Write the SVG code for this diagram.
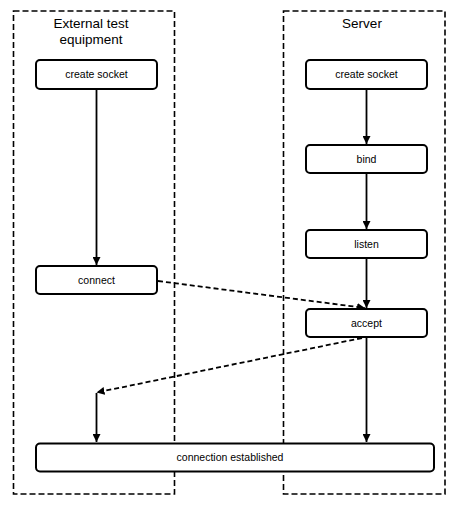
<svg xmlns="http://www.w3.org/2000/svg" width="455" height="514" viewBox="0 0 455 514">
<style>
.lane{fill:none;stroke:#000;stroke-width:1.6;stroke-dasharray:6 3}
.box{fill:#fff;stroke:#000;stroke-width:2}
.t{font-family:"Liberation Sans",Arial,sans-serif;font-size:10.5px;fill:#000;text-anchor:middle}
.h{font-family:"Liberation Sans",Arial,sans-serif;font-size:13.5px;fill:#000;text-anchor:middle}
.s{fill:none;stroke:#000;stroke-width:1.8}
.d{fill:none;stroke:#000;stroke-width:1.8;stroke-dasharray:5 3}
</style>
<defs>
<marker id="ah" markerWidth="8" markerHeight="8" refX="8" refY="4" orient="auto" markerUnits="userSpaceOnUse">
<path d="M0,0 L8,4 L0,8 Z" fill="#000"/>
</marker>
</defs>
<g id="lane-external">
<rect class="lane" x="13.5" y="11" width="161" height="483"/>
<text class="h" x="91" y="28">External test</text>
<text class="h" x="91" y="44">equipment</text>
</g>
<g id="lane-server">
<rect class="lane" x="283.5" y="11" width="161.5" height="483"/>
<text class="h" x="362" y="28">Server</text>
</g>
<g id="connectors">
<line class="s" x1="96.5" y1="89" x2="96.5" y2="265" marker-end="url(#ah)"/>
<line class="s" x1="366.5" y1="89" x2="366.5" y2="144" marker-end="url(#ah)"/>
<line class="s" x1="366.5" y1="173" x2="366.5" y2="229" marker-end="url(#ah)"/>
<line class="s" x1="366.5" y1="258" x2="366.5" y2="308" marker-end="url(#ah)"/>
<line class="d" x1="158" y1="281" x2="365" y2="308" marker-end="url(#ah)"/>
<line class="d" x1="362" y1="338" x2="96.5" y2="392.5" marker-end="url(#ah)"/>
<line class="s" x1="96.5" y1="393" x2="96.5" y2="442" marker-end="url(#ah)"/>
<line class="s" x1="366.5" y1="337" x2="366.5" y2="442" marker-end="url(#ah)"/>
</g>
<g id="ext-create-socket">
<rect class="box" x="36" y="60" width="121" height="29" rx="4"/>
<text class="t" x="96.5" y="78">create socket</text>
</g>
<g id="connect">
<rect class="box" x="36" y="266" width="121" height="28" rx="4"/>
<text class="t" x="96.5" y="283.5">connect</text>
</g>
<g id="srv-create-socket">
<rect class="box" x="306" y="60" width="121" height="29" rx="4"/>
<text class="t" x="366.5" y="78">create socket</text>
</g>
<g id="bind">
<rect class="box" x="306" y="145" width="121" height="28" rx="4"/>
<text class="t" x="366.5" y="162.5">bind</text>
</g>
<g id="listen">
<rect class="box" x="306" y="230" width="121" height="28" rx="4"/>
<text class="t" x="366.5" y="247.5">listen</text>
</g>
<g id="accept">
<rect class="box" x="306" y="309" width="121" height="28" rx="4"/>
<text class="t" x="366.5" y="326.5">accept</text>
</g>
<g id="connection-established">
<rect class="box" x="36" y="443.5" width="398" height="28" rx="4"/>
<text class="t" x="230" y="461">connection established</text>
</g>
</svg>
